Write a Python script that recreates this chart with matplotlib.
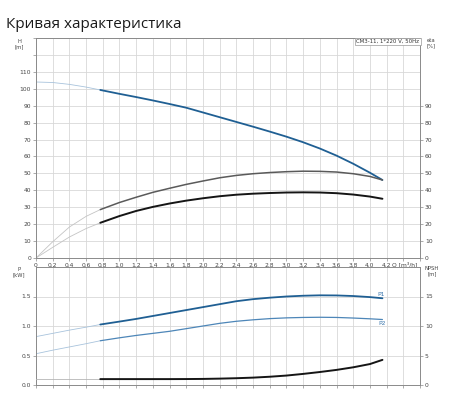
import matplotlib
matplotlib.use("Agg")
import matplotlib.pyplot as plt
import numpy as np

# flow points (m3/h)
q = [0, 0.2, 0.4, 0.6, 0.77, 1.0, 1.2, 1.4, 1.6, 1.8, 2.0, 2.2, 2.4, 2.6,
     2.8, 3.0, 3.2, 3.4, 3.6, 3.8, 4.0, 4.15]
head = [104, 103.7, 102.6, 101, 99.3, 97, 95.1, 93.1, 91, 88.8, 86, 83.2,
        80.4, 77.6, 74.7, 71.7, 68.4, 64.7, 60.5, 55.7, 50.4, 46.1]
eta_upper = [0, 9.6, 18.3, 24.6, 28.6, 32.8, 35.9, 38.8, 41.2, 43.5, 45.5,
             47.4, 48.8, 49.8, 50.5, 51, 51.3, 51.2, 50.8, 49.8, 48.2, 46.1]
eta_lower = [0, 6.3, 12.4, 17.4, 20.8, 24.8, 27.8, 30.2, 32.2, 33.9, 35.3,
             36.5, 37.4, 38, 38.4, 38.7, 38.8, 38.7, 38.3, 37.5, 36.3, 35]
p1 = [0.82, 0.875, 0.93, 0.98, 1.025, 1.075, 1.12, 1.17, 1.22, 1.27, 1.32,
      1.37, 1.42, 1.455, 1.48, 1.5, 1.513, 1.52, 1.518, 1.508, 1.49, 1.47]
p2 = [0.53, 0.59, 0.645, 0.7, 0.75, 0.8, 0.84, 0.875, 0.91, 0.955, 1.0,
      1.045, 1.08, 1.105, 1.125, 1.138, 1.145, 1.148, 1.145, 1.135, 1.122, 1.11]
npsh = [1.0, 1.0, 1.0, 1.0, 1.0, 1.0, 1.0, 1.0, 1.0, 1.01, 1.03, 1.08, 1.15,
        1.25, 1.4, 1.6, 1.88, 2.2, 2.56, 3.0, 3.55, 4.26]

h_ticks = list(range(0, 111, 10))
eta_ticks = list(range(0, 91, 10))
p_ticks = [0.0, 0.5, 1.0, 1.5]
npsh_ticks = [0, 5, 10, 15]
title = "Кривая характеристика"
pump = "CM3-11, 1*220 V, 50Hz"

start = 4  # index where the duty range begins (thin before, thick after)

plt.rcParams['font.family'] = ['DejaVu Sans']
fs = 4.3
tick_col = '#444444'
grid_col = '#d8d8d8'
spine_col = '#8a8a8a'

fig = plt.figure(figsize=(4.5, 4.04), dpi=100)
ax1 = fig.add_axes([36 / 450, 1 - 258 / 404, 384 / 450, 220 / 404])
ax2 = fig.add_axes([36 / 450, 1 - 385 / 404, 384 / 450, 118 / 404])


def style(ax):
    ax.set_xlim(0, 4.6)
    ax.set_xticks(np.arange(0, 4.61, 0.2))
    ax.grid(True, color=grid_col, lw=0.6)
    ax.set_axisbelow(True)
    for s in ax.spines.values():
        s.set_color(spine_col)
        s.set_linewidth(0.7)
    ax.tick_params(length=2, width=0.5, color=spine_col, labelsize=fs,
                   labelcolor=tick_col, pad=1.5)


def curve(ax, y, thin, thick, lw=1.3):
    ax.plot(q[:start + 1], y[:start + 1], color=thin, lw=0.6)
    ax.plot(q[start:], y[start:], color=thick, lw=lw, solid_capstyle='round')


# top chart: head and efficiency
style(ax1)
ax1.set_ylim(0, 130)
ax1.set_yticks(range(0, 131, 10))
ax1.set_yticklabels([str(v) if v in h_ticks else '' for v in range(0, 131, 10)])
ax1.set_xticklabels([('%.1f' % v if v > 0 else '0') if v < 4.25 else ''
                     for v in np.arange(0, 4.61, 0.2)])
ax1.text(4.27, -2.2, 'Q [m³/h]', fontsize=fs, color=tick_col, ha='left', va='top')

curve(ax1, head, '#a8c3dc', '#1f5f93')
curve(ax1, eta_upper, '#c4c4c4', '#5a5a5a', lw=1.1)
curve(ax1, eta_lower, '#c4c4c4', '#151515', lw=1.4)

ax1r = ax1.twinx()
ax1r.set_ylim(0, 130)
ax1r.set_yticks(eta_ticks)
for s in ax1r.spines.values():
    s.set_visible(False)
ax1r.tick_params(length=2, width=0.5, color=spine_col, labelsize=fs,
                 labelcolor=tick_col, pad=1.5)

ax1.text(0.998, 0.996, pump, transform=ax1.transAxes, ha='right', va='top',
         fontsize=3.9, color='#333333',
         bbox=dict(boxstyle='square,pad=0.25', fc='white', ec='#999999', lw=0.5))

fig.text(19 / 450, 1 - 39 / 404, 'H\n[m]', fontsize=3.8, color=tick_col,
         ha='center', va='top', linespacing=1.1)
fig.text(431 / 450, 1 - 38 / 404, 'eta\n[%]', fontsize=3.8, color=tick_col,
         ha='center', va='top', linespacing=1.1)

# bottom chart: power and NPSH
style(ax2)
ax2.set_ylim(0, 2.0)
ax2.set_yticks(p_ticks)
ax2.set_yticklabels(['%.1f' % v for v in p_ticks])
ax2.tick_params(axis='x', labelbottom=False)

curve(ax2, p1, '#a8c3dc', '#1f5f93')
curve(ax2, p2, '#a8c3dc', '#4d86b8', lw=0.9)

ax2r = ax2.twinx()
ax2r.set_ylim(0, 20)
ax2r.set_yticks(npsh_ticks)
for s in ax2r.spines.values():
    s.set_visible(False)
ax2r.tick_params(length=2, width=0.5, color=spine_col, labelsize=fs,
                 labelcolor=tick_col, pad=1.5)
curve(ax2r, npsh, '#b5b5b5', '#151515', lw=1.4)

ax2.text(4.13, 1.54, 'P1', fontsize=fs, color='#3a76ad', ha='center', va='center')
ax2.text(4.15, 1.04, 'P2', fontsize=fs, color='#3a76ad', ha='center', va='center')

fig.text(19 / 450, 1 - 267 / 404, 'P\n[kW]', fontsize=3.8, color=tick_col,
         ha='center', va='top', linespacing=1.1)
fig.text(432 / 450, 1 - 266 / 404, 'NPSH\n[m]', fontsize=3.8, color=tick_col,
         ha='center', va='top', linespacing=1.1)

fig.text(6 / 450, 1 - 28 / 404, title, fontsize=11, family=['Open Sans', 'DejaVu Sans'],
         color='#1a1a1a', ha='left', va='baseline')

fig.savefig('out.png', dpi=100)
